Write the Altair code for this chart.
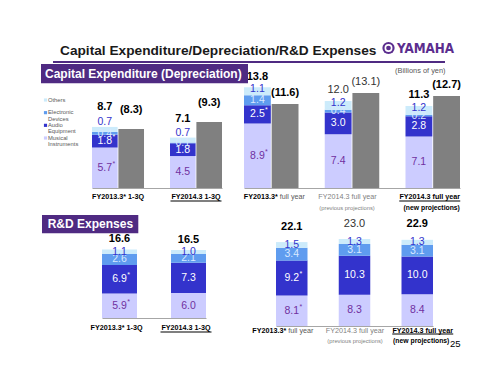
import altair as alt
import pandas as pd

FONT = "Liberation Sans, Arial, Helvetica, sans-serif"
NARROW = "Liberation Sans Narrow, Arial Narrow, DejaVu Sans Condensed, Liberation Sans, sans-serif"

# ---------------- data ----------------
segments = ["Musical Instruments", "Audio Equipment", "Electronic Devices", "Others"]
legend_order = ["Others", "Electronic Devices", "Audio Equipment", "Musical Instruments"]
legend_text = ["Others", "Electronic\nDevices", "Audio\nEquipment", "Musical\nInstruments"]

q_groups = ["FY2013.3 1-3Q", "FY2014.3 1-3Q"]
q_labels = ["FY2013.3* 1-3Q", "FY2014.3 1-3Q"]
f_groups = ["FY2013.3 full year", "FY2014.3 full year (previous projections)",
            "FY2014.3 full year (new projections)"]
f_line1 = ["FY2013.3*", "FY2014.3 full year", "FY2014.3 full year"]
f_inline = "full year"
f_line2 = ["", "(previous projections)", "(new projections)"]

# Capital expenditure, 1-3Q
cq_musical = [5.7, 4.5]
cq_audio = [1.8, 1.8]
cq_electronic = [0.4, 0.1]
cq_others = [0.7, 0.7]
cq_total = [8.7, 7.1]
cq_depr = [8.3, 9.3]

# Capital expenditure, full year
cf_musical = [8.9, 7.4, 7.1]
cf_audio = [2.5, 3.0, 2.8]
cf_electronic = [1.4, 0.4, 0.2]
cf_others = [1.1, 1.2, 1.2]
cf_total = [13.8, 12.0, 11.3]
cf_depr = [11.6, 13.1, 12.7]

# R&D, 1-3Q
rq_musical = [5.9, 6.0]
rq_audio = [6.9, 7.3]
rq_electronic = [2.6, 2.1]
rq_others = [1.1, 1.0]
rq_total = [16.6, 16.5]

# R&D, full year
rf_musical = [8.1, 8.3, 8.4]
rf_audio = [9.2, 10.3, 10.0]
rf_electronic = [3.4, 3.1, 3.1]
rf_others = [1.5, 1.3, 1.3]
rf_total = [22.1, 23.0, 22.9]

restated_groups = ["FY2013.3 1-3Q", "FY2013.3 full year"]
restated_segments = ["Musical Instruments", "Audio Equipment"]

# ---------------- style ----------------
seg_colors = ["#CCCCFF", "#3333CC", "#5F9CEF", "#CCEBFB"]
seg_text_colors = ["#7030A0", "#FFFFFF", "#D9E8FF", "#3333CC"]
DEPR = "#808080"
PURPLE = "#4F2A82"

COLOR = alt.Color("segment:N", scale=alt.Scale(domain=segments, range=seg_colors), legend=None)
TFILL = alt.Fill("segment:N", scale=alt.Scale(domain=segments, range=seg_text_colors), legend=None)


def seg_frame(groups, cols):
    rows = []
    for i, g in enumerate(groups):
        base = 0.0
        for k, s in enumerate(segments):
            v = cols[k][i]
            rows.append({"group": g, "segment": s, "order": k, "lo": base, "hi": base + v,
                         "mid": base + v / 2, "label": f"{v:.1f}",
                         "star": (g in restated_groups) and (s in restated_segments), "slot": "a"})
            base += v
    return pd.DataFrame(rows)


def tot_frame(groups, totals, depr=None):
    rows = [{"group": g, "slot": "a", "value": v, "label": f"{v:.1f}", "prev": "previous" in g}
            for g, v in zip(groups, totals)]
    if depr is not None:
        rows += [{"group": g, "slot": "b", "value": v, "label": f"({v:.1f})", "prev": "previous" in g}
                 for g, v in zip(groups, depr)]
    return pd.DataFrame(rows)


def cat(X, group, text, y, dx=0, align="center", weight="normal", size=7.2, color="#000000"):
    df = pd.DataFrame({"group": [group], "txt": [text]})
    return alt.Chart(df).mark_text(align=align, baseline="middle", dx=dx, fontSize=size,
                                   fontWeight=weight, color=color).encode(
        x=X, y=alt.value(y), text="txt:N")


def underline(X, group, y, size, dx=0):
    df = pd.DataFrame({"group": [group]})
    return alt.Chart(df).mark_tick(orient="horizontal", size=size, thickness=0.8, color="#000000",
                                   opacity=1, xOffset=dx).encode(x=X, y=alt.value(y))


def panel(seg, tot, groups, xrange, pinner, ydom, yrange, axis_offset, tot_dy, with_depr, extras,
          seg_dy=None):
    seg_dy = seg_dy or {}
    X = alt.X("group:N",
              scale=alt.Scale(domain=groups, range=xrange, paddingInner=pinner, paddingOuter=0),
              axis=alt.Axis(labels=False, ticks=False, grid=False, domain=True, domainColor="#A6A6A6",
                            domainWidth=1, title=None, orient="bottom", offset=axis_offset))
    ys = alt.Scale(domain=ydom, range=yrange, nice=False, zero=False)

    def Y(f):
        return alt.Y(f, type="quantitative", scale=ys, axis=None, stack=None)

    off = {}
    if with_depr:
        off = {"xOffset": alt.XOffset("slot:N", scale=alt.Scale(domain=["a", "b"], paddingInner=0.03))}
    layers = [alt.Chart(seg).mark_bar().encode(x=X, y=Y("lo"), y2=alt.Y2("hi"), color=COLOR, **off)]
    if with_depr:
        layers.append(alt.Chart(tot).transform_filter(alt.datum.slot == "b").mark_bar(color=DEPR).encode(
            x=X, y=Y("value"), y2=alt.datum(0), **off))
    for s in segments:
        d = seg_dy.get(s, 0)
        layers += [
            alt.Chart(seg).transform_filter(alt.datum.segment == s).mark_text(
                fontSize=10.5, baseline="middle", dy=d).encode(
                x=X, y=Y("mid"), text="label:N", fill=TFILL, **off),
            alt.Chart(seg).transform_filter(alt.datum.segment == s).transform_filter("datum.star").mark_text(
                text="*", fontSize=7, dx=9, dy=d - 4, baseline="middle").encode(
                x=X, y=Y("mid"), fill=TFILL, **off),
        ]
    layers += [
        alt.Chart(tot).transform_filter("!datum.prev").mark_text(
            fontSize=11, fontWeight="bold", dy=tot_dy, baseline="middle", color="#000000").encode(
            x=X, y=Y("value"), text="label:N", **off),
        alt.Chart(tot).transform_filter("datum.prev").mark_text(
            fontSize=11, dy=tot_dy, baseline="middle", color="#333333").encode(
            x=X, y=Y("value"), text="label:N", **off),
    ]
    layers += extras(X)
    return alt.layer(*layers)


def tl_extras(X):
    return [cat(X, q_groups[0], q_labels[0], 189, weight="bold"),
            cat(X, q_groups[1], q_labels[1], 189, weight="bold"),
            underline(X, q_groups[1], 193, 51)]


def tr_extras(X):
    return [cat(X, f_groups[0], f_line1[0], 189, dx=6.5, align="right", weight="bold"),
            cat(X, f_groups[0], f_inline, 189, dx=8.5, align="left", color="#595959"),
            cat(X, f_groups[1], f_line1[1], 189, dx=-4.5, color="#7F7F7F"),
            cat(X, f_groups[1], f_line2[1], 200, dx=-5, size=5.8, color="#7F7F7F"),
            cat(X, f_groups[2], f_line1[2], 189, dx=-3, weight="bold"),
            underline(X, f_groups[2], 193, 61, dx=-3),
            cat(X, f_groups[2], f_line2[2], 200, dx=-1, size=6.8, weight="bold")]


def bl_extras(X):
    return [cat(X, q_groups[0], q_labels[0], 320, dx=-3, weight="bold"),
            cat(X, q_groups[1], q_labels[1], 320, dx=-2.5, weight="bold"),
            underline(X, q_groups[1], 324, 51, dx=-2.5)]


def br_extras(X):
    return [cat(X, f_groups[0], f_line1[0], 322.7, dx=-5.5, align="right", weight="bold"),
            cat(X, f_groups[0], f_inline, 322.7, dx=-3.5, align="left", color="#595959"),
            cat(X, f_groups[1], f_line1[1], 322.7, dx=0.5, color="#7F7F7F"),
            cat(X, f_groups[1], f_line2[1], 332.5, dx=0.5, size=5.8, color="#7F7F7F"),
            cat(X, f_groups[2], f_line1[2], 322.7, dx=5.5, weight="bold"),
            underline(X, f_groups[2], 326, 61, dx=5.5),
            cat(X, f_groups[2], f_line2[2], 332.5, dx=4, size=6.8, weight="bold")]


H = 359
tl = panel(seg_frame(q_groups, [cq_musical, cq_audio, cq_electronic, cq_others]),
           tot_frame(q_groups, cq_total, cq_depr), q_groups, [84, 214], 0.333,
           [0, 10], [180, 109], 180 - H, -19, True, tl_extras,
           seg_dy={"Others": -7, "Electronic Devices": 0.5})
tr = panel(seg_frame(f_groups, [cf_musical, cf_audio, cf_electronic, cf_others]),
           tot_frame(f_groups, cf_total, cf_depr), f_groups, [236, 452], 0.325,
           [0, 14], [180, 78.5], 180 - H, -11, True, tr_extras,
           seg_dy={"Others": -2})
bl = panel(seg_frame(q_groups, [rq_musical, rq_audio, rq_electronic, rq_others]),
           tot_frame(q_groups, rq_total), q_groups, [94, 198], 0.493,
           [0, 20], [310, 227], 310 - H, -10, False, bl_extras)
br = panel(seg_frame(f_groups, [rf_musical, rf_audio, rf_electronic, rf_others]),
           tot_frame(f_groups, rf_total), f_groups, [268, 425], 0.498,
           [0, 25], [318, 223.5], 318 - H, -15, False, br_extras)

# legend
leg_df = pd.DataFrame({"segment": legend_order, "txt": legend_text})
LY = alt.Y("segment:N", scale=alt.Scale(type="point", domain=legend_order, range=[92, 130], padding=0),
           axis=None)
legend = alt.layer(
    alt.Chart(leg_df).mark_square(size=10, opacity=1).encode(x=alt.value(37.5), y=LY, color=COLOR),
    alt.Chart(leg_df).mark_text(align="left", baseline="top", dy=-3.5, fontSize=5.8, lineHeight=6.5,
                                lineBreak="\n", color="#595959").encode(x=alt.value(40), y=LY, text="txt:N"),
)


def deco_text(text, x, y, **kw):
    return alt.Chart(pd.DataFrame({"t": [text]})).mark_text(**kw).encode(
        x=alt.value(x), y=alt.value(y), text="t:N")


one = pd.DataFrame({"k": [0]})
deco = [
    deco_text("Capital Expenditure/Depreciation/R&D Expenses", 52, 47, align="left", baseline="alphabetic",
              fontSize=13.7, fontWeight="bold", color="#1A1A1A"),
    alt.Chart(one).mark_rule(color=PURPLE, strokeWidth=2).encode(
        x=alt.value(45), x2=alt.value(437), y=alt.value(54)),
    alt.Chart(one).mark_circle(size=150, color="#5B2D8E", opacity=1).encode(x=alt.value(380.5), y=alt.value(40)),
    alt.Chart(one).mark_point(size=40, color="#FFFFFF", strokeWidth=1.6, opacity=1).encode(
        x=alt.value(380.5), y=alt.value(40)),
    deco_text("YAMAHA", 389, 45.3, align="left", baseline="alphabetic", fontSize=13.3, fontWeight="bold",
              font=NARROW, color="#5B2D8E"),
    deco_text("(Billions of yen)", 387, 64.5, align="left", baseline="alphabetic", fontSize=7.4,
              color="#595959"),
    alt.Chart(one).mark_rect(color=PURPLE).encode(
        x=alt.value(33), x2=alt.value(240), y=alt.value(56), y2=alt.value(75.3)),
    deco_text("Capital Expenditure (Depreciation)", 37, 70, align="left", baseline="alphabetic",
              fontSize=12, fontWeight="bold", color="#FFFFFF"),
    alt.Chart(one).mark_rect(color=PURPLE).encode(
        x=alt.value(34), x2=alt.value(130.3), y=alt.value(207), y2=alt.value(225.3)),
    deco_text("R&D Expenses", 39.7, 220, align="left", baseline="alphabetic",
              fontSize=12, fontWeight="bold", color="#FFFFFF"),
    deco_text("25", 442, 335.5, align="left", baseline="middle", fontSize=9.5, color="#000000"),
]

chart = alt.layer(tl, tr, bl, br, legend, *deco).resolve_scale(
    x="independent", y="independent", xOffset="independent"
).properties(
    width=484, height=359, autosize=alt.AutoSizeParams(type="none"), padding=0
).configure(font=FONT).configure_view(stroke=None)

chart.save("out.html", embed_options={"renderer": "svg", "actions": False})
